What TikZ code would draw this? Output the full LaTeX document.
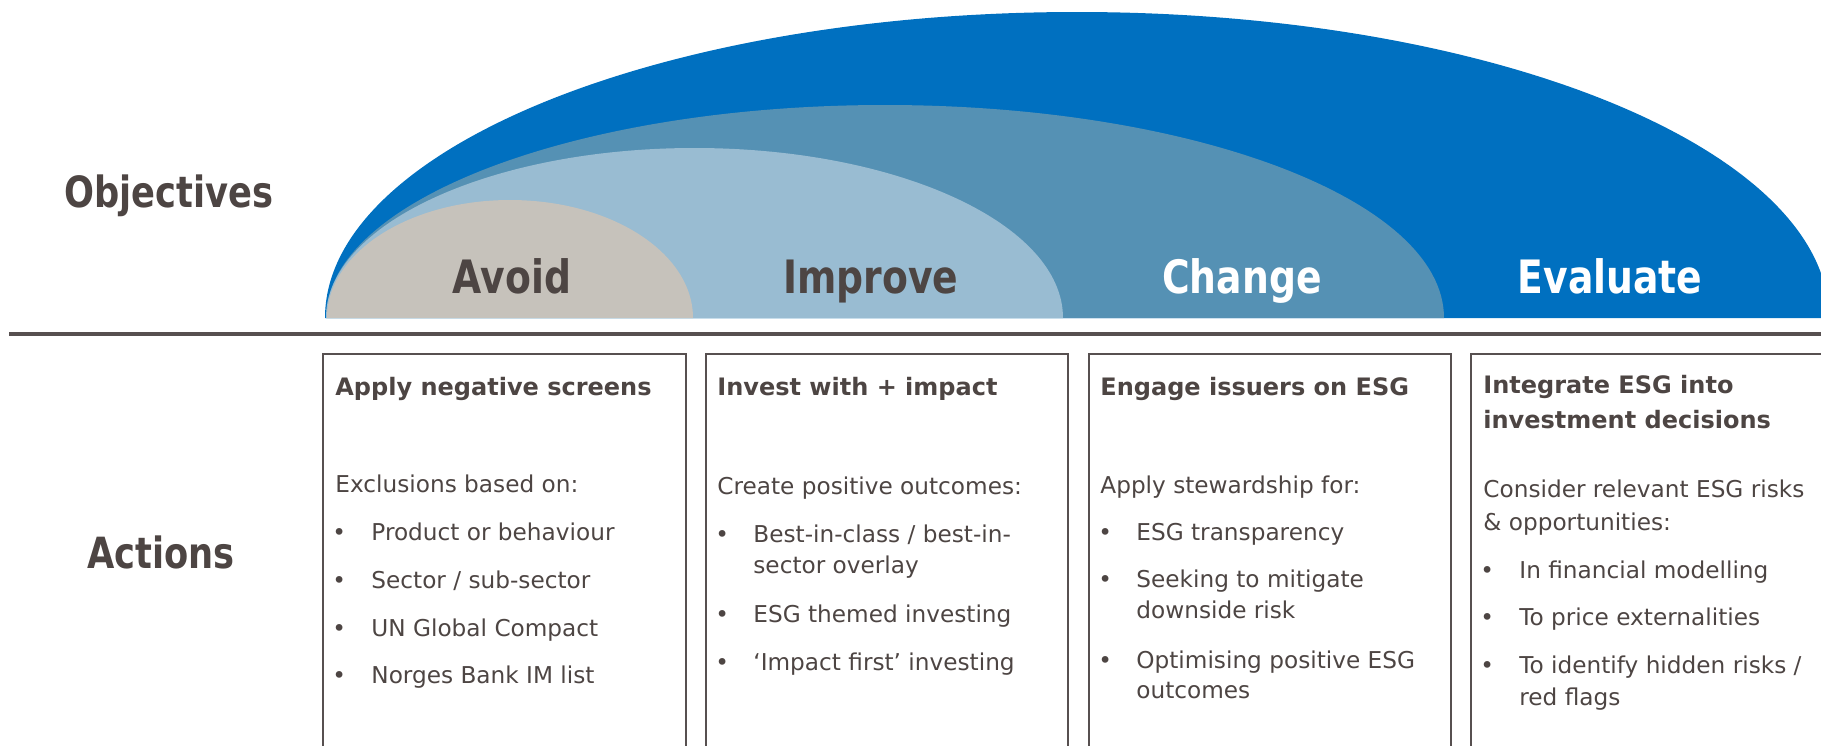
\documentclass[tikz,border=0pt]{standalone}
\usepackage{fontspec}
\setmainfont{DejaVu Sans}
\newfontfamily\condb[FakeStretch=0.82,BoldFont={DejaVu Sans Bold}]{DejaVu Sans}
\definecolor{tgrey}{HTML}{4D4543}
\definecolor{lgrey}{HTML}{575050}
\definecolor{cblue}{HTML}{0070C0}
\definecolor{mblue}{HTML}{5591B4}
\definecolor{lblue}{HTML}{99BCD2}
\definecolor{beige}{HTML}{C6C2BB}
\tikzset{
  lab/.style={inner sep=0pt, anchor=base west, text=tgrey, font=\fontsize{11.6pt}{14pt}\selectfont},
  ttl/.style={inner sep=0pt, anchor=base west, text=tgrey, font=\fontsize{12pt}{14pt}\selectfont\bfseries},
  big/.style={inner sep=0pt, anchor=base west, text=tgrey, font=\condb\fontsize{21.5pt}{24pt}\selectfont\bfseries},
  arclab/.style={inner sep=0pt, anchor=base, font=\condb\fontsize{23pt}{26pt}\selectfont\bfseries},
  box/.style={draw=lgrey, line width=1.25pt},
}
\begin{document}
\begin{tikzpicture}[x=0.5pt,y=-0.5pt]
\useasboundingbox (0,0) rectangle (1821,745);
% arcs
\fill[cblue] (325,318) arc[start angle=180,end angle=0,x radius=376pt,y radius=153pt] -- cycle;
\fill[mblue] (326,318) arc[start angle=180,end angle=0,x radius=279.5pt,y radius=106.5pt] -- cycle;
\fill[lblue] (326,318) arc[start angle=180,end angle=0,x radius=368.5*0.5pt,y radius=85pt] -- cycle;
\fill[beige] (327,318) arc[start angle=180,end angle=0,x radius=91.5pt,y radius=59pt] -- cycle;
\node[arclab, text=tgrey] (avoid) at (512,293) {Avoid};
\node[arclab, text=tgrey] (improve) at (871,293) {Improve};
\node[arclab, text=white] (change) at (1242,293) {Change};
\node[arclab, text=white] (evaluate) at (1610,293) {Evaluate};
% left labels
\node[big] (obj) at (64,207) {Objectives};
\node[big] (act) at (87,568) {Actions};
% separator
\coordinate (sepL) at (9,334);
\coordinate (sepR) at (1830,334);
\draw[lgrey, line width=2pt] (sepL) -- (sepR);
% boxes
\draw[box] (323,354) rectangle (686,780);
\draw[box] (706,354) rectangle (1068,780);
\draw[box] (1089,354) rectangle (1451,780);
\draw[box] (1471,354) rectangle (1840,780);
% box 1
\node[ttl] (t1) at (335,395) {Apply negative screens};
\node[lab] (s1) at (335,492) {Exclusions based on:};
\node[lab] (b1a) at (332,540) {•}; \node[lab] (x1a) at (371,540) {Product or behaviour};
\node[lab] (b1b) at (332,588) {•}; \node[lab] (x1b) at (371,588) {Sector / sub-sector};
\node[lab] (b1c) at (332,636) {•}; \node[lab] (x1c) at (371,636) {UN Global Compact};
\node[lab] (b1d) at (332,683) {•}; \node[lab] (x1d) at (371,683) {Norges Bank IM list};
% box 2
\node[ttl] (t2) at (717,395) {Invest with + impact};
\node[lab] (s2) at (717,494) {Create positive outcomes:};
\node[lab] (b2a) at (715,542) {•}; \node[lab] (x2a) at (753,542) {Best-in-class / best-in-};
\node[lab] (x2a2) at (753,573) {sector overlay};
\node[lab] (b2b) at (715,622) {•}; \node[lab] (x2b) at (753,622) {ESG themed investing};
\node[lab] (b2c) at (715,670) {•}; \node[lab] (x2c) at (753,670) {‘Impact first’ investing};
% box 3
\node[ttl] (t3) at (1100,395) {Engage issuers on ESG};
\node[lab] (s3) at (1100,493) {Apply stewardship for:};
\node[lab] (b3a) at (1098,540) {•}; \node[lab] (x3a) at (1136,540) {ESG transparency};
\node[lab] (b3b) at (1098,587) {•}; \node[lab] (x3b) at (1136,587) {Seeking to mitigate};
\node[lab] (x3b2) at (1136,618) {downside risk};
\node[lab] (b3c) at (1098,668) {•}; \node[lab] (x3c) at (1136,668) {Optimising positive ESG};
\node[lab] (x3c2) at (1136,698) {outcomes};
% box 4
\node[ttl] (t4) at (1483,393) {Integrate ESG into};
\node[ttl] (t4b) at (1483,428) {investment decisions};
\node[lab] (s4) at (1483,497) {Consider relevant ESG risks};
\node[lab] (s4b) at (1483,530) {\& opportunities:};
\node[lab] (b4a) at (1480,578) {•}; \node[lab] (x4a) at (1519,578) {In financial modelling};
\node[lab] (b4b) at (1480,625) {•}; \node[lab] (x4b) at (1519,625) {To price externalities};
\node[lab] (b4c) at (1480,673) {•}; \node[lab] (x4c) at (1519,673) {To identify hidden risks /};
\node[lab] (x4c2) at (1519,705) {red flags};
\end{tikzpicture}
\end{document}
